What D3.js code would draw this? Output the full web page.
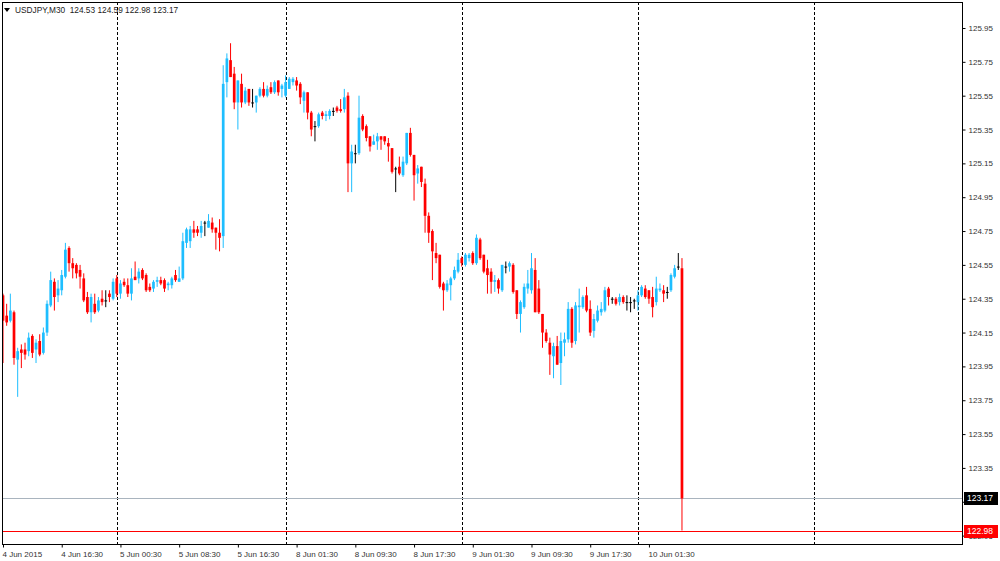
<!DOCTYPE html>
<html><head><meta charset="utf-8">
<script src="https://cdn.jsdelivr.net/npm/d3@7"></script>
<style>
body{margin:0;background:#fff;}
svg{display:block;font-family:"Liberation Sans",Arial,sans-serif;}
</style>
</head><body>
<svg id="c" width="1000" height="561"></svg>
<script>
const symbolName = "USDJPY,M30";
const open = [124.37,124.25,124.22,124.27,123.99,124.05,124.05,124.04,124.13,124.05,
124.10,124.03,124.15,124.31,124.45,124.37,124.40,124.48,124.65,124.56,
124.55,124.52,124.47,124.36,124.27,124.32,124.28,124.35,124.34,124.38,
124.35,124.47,124.38,124.45,124.43,124.38,124.48,124.47,124.52,124.49,
124.42,124.41,124.45,124.46,124.46,124.43,124.43,124.49,124.45,124.47,
124.68,124.69,124.76,124.76,124.74,124.80,124.77,124.80,124.77,124.74,
124.72,125.63,125.76,125.68,125.51,125.62,125.51,125.59,125.51,125.51,
125.55,125.59,125.55,125.60,125.57,125.64,125.59,125.55,125.59,125.63,
125.64,125.62,125.52,125.57,125.45,125.37,125.37,125.45,125.43,125.43,
125.46,125.48,125.47,125.47,125.55,125.15,125.21,125.21,125.43,125.37,
125.31,125.26,125.28,125.31,125.31,125.27,125.24,125.12,125.13,125.08,
125.15,125.33,125.20,125.09,125.13,125.03,124.84,124.75,124.62,124.61,
124.44,124.40,124.43,124.47,124.51,124.59,124.55,124.59,124.62,124.56,
124.70,124.61,124.53,124.51,124.45,124.46,124.40,124.54,124.54,124.55,
124.40,124.26,124.30,124.41,124.40,124.52,124.41,124.26,124.15,124.09,
124.01,124.07,123.97,124.09,124.11,124.29,124.10,124.30,124.30,124.37,
124.29,124.16,124.22,124.27,124.28,124.41,124.35,124.35,124.33,124.36,
124.33,124.33,124.34,124.33,124.37,124.41,124.40,124.36,124.33,124.40,
124.40,124.39,124.40,124.48,124.54,124.53];
const high = [124.38,124.32,124.38,124.28,124.06,124.08,124.09,124.15,124.14,124.11,
124.14,124.18,124.34,124.51,124.47,124.46,124.52,124.68,124.66,124.59,
124.56,124.55,124.50,124.39,124.38,124.38,124.36,124.40,124.40,124.40,
124.47,124.49,124.46,124.47,124.47,124.53,124.57,124.53,124.53,124.50,
124.44,124.46,124.48,124.48,124.47,124.45,124.48,124.52,124.54,124.74,
124.77,124.78,124.81,124.78,124.81,124.81,124.85,124.83,124.77,124.82,
125.73,125.80,125.86,125.72,125.64,125.68,125.60,125.59,125.59,125.55,
125.60,125.63,125.61,125.63,125.64,125.64,125.62,125.67,125.66,125.66,
125.66,125.63,125.58,125.57,125.46,125.40,125.45,125.46,125.46,125.47,
125.48,125.49,125.53,125.59,125.57,125.26,125.26,125.55,125.44,125.38,
125.31,125.32,125.33,125.31,125.31,125.30,125.24,125.13,125.19,125.19,
125.33,125.36,125.20,125.14,125.13,125.06,124.86,124.76,124.68,124.61,
124.45,124.46,124.48,124.54,124.62,124.60,124.62,124.62,124.63,124.73,
124.71,124.61,124.58,124.53,124.49,124.47,124.55,124.57,124.57,124.56,
124.40,124.34,124.44,124.52,124.62,124.59,124.46,124.26,124.17,124.12,
124.09,124.13,124.15,124.15,124.33,124.30,124.33,124.41,124.37,124.42,
124.34,124.26,124.31,124.33,124.42,124.42,124.36,124.36,124.38,124.37,
124.37,124.36,124.35,124.40,124.43,124.43,124.40,124.42,124.48,124.44,
124.43,124.42,124.50,124.55,124.62,124.59];
const low = [123.97,124.19,124.21,123.96,123.77,123.94,123.99,124.01,124.00,123.97,
124.01,124.02,124.13,124.30,124.28,124.33,124.37,124.47,124.51,124.47,
124.47,124.41,124.33,124.26,124.21,124.26,124.27,124.31,124.30,124.33,
124.34,124.36,124.35,124.42,124.36,124.34,124.46,124.44,124.46,124.39,
124.39,124.39,124.42,124.43,124.39,124.40,124.41,124.45,124.45,124.46,
124.65,124.65,124.71,124.72,124.71,124.72,124.77,124.74,124.64,124.63,
124.65,125.54,125.66,125.47,125.35,125.48,125.50,125.49,125.48,125.45,
125.54,125.54,125.54,125.56,125.56,125.55,125.54,125.54,125.59,125.61,
125.58,125.50,125.45,125.41,125.31,125.28,125.36,125.41,125.40,125.41,
125.43,125.45,125.45,125.45,124.98,124.98,125.15,125.20,125.34,125.28,
125.22,125.26,125.23,125.23,125.26,125.16,125.09,124.98,125.08,125.07,
125.14,125.19,124.93,125.03,125.01,124.74,124.68,124.46,124.56,124.41,
124.28,124.39,124.34,124.46,124.50,124.54,124.54,124.57,124.55,124.55,
124.58,124.50,124.38,124.38,124.39,124.38,124.39,124.50,124.51,124.38,
124.23,124.15,124.29,124.38,124.38,124.27,124.26,124.06,124.09,123.90,
123.88,123.96,123.84,124.01,124.09,124.06,124.08,124.15,124.29,124.27,
124.13,124.12,124.21,124.25,124.27,124.31,124.32,124.31,124.31,124.32,
124.28,124.27,124.29,124.28,124.36,124.35,124.32,124.24,124.31,124.39,
124.33,124.35,124.39,124.47,124.52,122.98];
const close = [124.22,124.21,124.28,124.00,124.04,124.03,124.02,124.12,124.03,124.09,
124.02,124.15,124.32,124.46,124.36,124.41,124.49,124.64,124.56,124.53,
124.50,124.48,124.34,124.27,124.36,124.27,124.34,124.33,124.34,124.36,
124.45,124.38,124.44,124.43,124.38,124.47,124.46,124.51,124.47,124.40,
124.40,124.45,124.46,124.44,124.41,124.44,124.47,124.46,124.47,124.69,
124.76,124.76,124.74,124.74,124.78,124.80,124.81,124.76,124.74,124.71,
125.62,125.77,125.66,125.51,125.64,125.51,125.58,125.51,125.51,125.55,
125.59,125.55,125.59,125.57,125.63,125.57,125.61,125.63,125.65,125.65,
125.61,125.54,125.57,125.45,125.35,125.37,125.44,125.43,125.44,125.46,
125.46,125.46,125.46,125.54,125.15,125.22,125.21,125.42,125.35,125.30,
125.25,125.28,125.31,125.29,125.28,125.25,125.10,125.12,125.09,125.16,
125.33,125.20,125.08,125.12,125.04,124.84,124.74,124.63,124.59,124.42,
124.40,124.44,124.47,124.52,124.58,124.56,124.61,124.61,124.56,124.71,
124.59,124.51,124.49,124.45,124.46,124.41,124.55,124.54,124.56,124.39,
124.26,124.33,124.42,124.44,124.53,124.27,124.27,124.15,124.10,124.02,
124.07,123.96,124.10,124.11,124.29,124.09,124.31,124.31,124.36,124.28,
124.15,124.23,124.28,124.29,124.40,124.36,124.35,124.32,124.36,124.33,
124.33,124.33,124.34,124.37,124.42,124.36,124.35,124.30,124.41,124.41,
124.38,124.39,124.49,124.53,124.54,123.17];
const timeTickIndex = [0,16,32,48,64,80,96,112,128,144,160,176];
const timeTickLabels = ["4 Jun 2015","4 Jun 16:30","5 Jun 00:30","5 Jun 08:30","5 Jun 16:30",
  "8 Jun 01:30","8 Jun 09:30","8 Jun 17:30","9 Jun 01:30","9 Jun 09:30","9 Jun 17:30","10 Jun 01:30"];
const daySeparatorIndex = [31,77,125,173,221];
const priceTicks = [125.95,125.75,125.55,125.35,125.15,124.95,124.75,124.55,124.35,124.15,
  123.95,123.75,123.55,123.35,123.15,122.95];
const bidPrice = 123.17;
const lowLinePrice = 122.98;

const W = 1000, H = 561;
const L = 2, R = 962, T = 2, B = 544;
const svg = d3.select("#c");
svg.append("rect").attr("width", W).attr("height", H).attr("fill", "#fff");

const x = d3.scaleLinear().domain([0, 261.3]).range([3, R]);
const y = d3.scaleLinear().domain([122.95, 125.95]).range([535.6, 28]);

svg.append("clipPath").attr("id","plot").append("rect")
  .attr("x", L).attr("y", T).attr("width", R - L).attr("height", B - T);

const plot = svg.append("g").attr("clip-path","url(#plot)");

// day separators
plot.selectAll("line.sep").data(daySeparatorIndex).enter().append("line")
  .attr("class","sep")
  .attr("x1", d => Math.round(x(d)) + 0.5).attr("x2", d => Math.round(x(d)) + 0.5)
  .attr("y1", T).attr("y2", B)
  .attr("stroke", "#000").attr("stroke-width", 1).attr("stroke-dasharray", "3,2");

// bid line
plot.append("line").attr("x1", L).attr("x2", R)
  .attr("y1", Math.round(y(bidPrice)) + 0.5).attr("y2", Math.round(y(bidPrice)) + 0.5)
  .attr("stroke", "#a9b4be").attr("stroke-width", 1);

// candles
const bars = d3.range(open.length).map(i => ({i, o: open[i], h: high[i], l: low[i], c: close[i]}));
const bull = "#1ebeff", bear = "#ff0000", doji = "#000000";
const col = d => d.c > d.o ? bull : (d.c < d.o ? bear : doji);
const bw = 2.7;
const g = plot.selectAll("g.bar").data(bars).enter().append("g").attr("class","bar");
g.append("line")
  .attr("x1", d => x(d.i)).attr("x2", d => x(d.i))
  .attr("y1", d => y(d.h)).attr("y2", d => y(d.l))
  .attr("stroke", col).attr("stroke-width", 1);
g.append("rect")
  .attr("x", d => x(d.i) - bw / 2)
  .attr("y", d => y(Math.max(d.o, d.c)))
  .attr("width", bw)
  .attr("height", d => Math.max(1, Math.abs(y(d.o) - y(d.c))))
  .attr("fill", col);

// low line (red), drawn on top
plot.append("rect").attr("x", L).attr("width", R - L)
  .attr("y", Math.round(y(lowLinePrice))).attr("height", 1)
  .attr("fill", "#ff0000");

// frame
svg.append("rect").attr("x", L + 0.5).attr("y", T + 0.5).attr("width", R - L).attr("height", B - T)
  .attr("fill", "none").attr("stroke", "#000").attr("stroke-width", 1);

// right price axis
const yAxis = d3.axisRight(y).tickValues(priceTicks).tickSize(3).tickPadding(3)
  .tickFormat(d3.format(".2f"));
const ya = svg.append("g").attr("transform", `translate(${R + 0.5},0)`).call(yAxis);
ya.select(".domain").remove();
ya.selectAll("line").attr("stroke", "#000");
ya.selectAll("text").attr("font-size", 8).attr("fill", "#333")
  .attr("font-family", '"Liberation Sans", Arial, sans-serif');

// bottom time axis
const xAxis = d3.axisBottom(x).tickValues(timeTickIndex).tickSize(3).tickPadding(4)
  .tickFormat((d, i) => timeTickLabels[i]);
const xa = svg.append("g").attr("transform", `translate(0,${B + 0.5})`).call(xAxis);
xa.select(".domain").remove();
xa.selectAll("line").attr("stroke", "#000");
xa.selectAll("text").attr("font-size", 8).attr("fill", "#333")
  .attr("text-anchor", "start").attr("dx", -1)
  .attr("font-family", '"Liberation Sans", Arial, sans-serif');

// price labels
function priceTag(p, bg) {
  const yy = Math.round(y(p));
  svg.append("rect").attr("x", 964).attr("y", yy - 6).attr("width", 34).attr("height", 13).attr("fill", bg);
  svg.append("text").attr("x", 967).attr("y", yy + 3).attr("font-size", 8.5).attr("fill", "#fff")
    .text(d3.format(".2f")(p));
}
priceTag(bidPrice, "#000");
priceTag(lowLinePrice, "#ff0000");

// header
svg.append("path").attr("d", "M4,8 L10,8 L7,12 Z").attr("fill", "#000");
svg.append("text").attr("x", 15).attr("y", 13).attr("font-size", 8.3).attr("fill", "#222")
  .attr("xml:space", "preserve").style("white-space", "pre")
  .text(`${symbolName}  ${d3.format(".2f")(open[open.length-1])} ${d3.format(".2f")(high[high.length-1])} ${d3.format(".2f")(low[low.length-1])} ${d3.format(".2f")(close[close.length-1])}`);
</script>
</body></html>
